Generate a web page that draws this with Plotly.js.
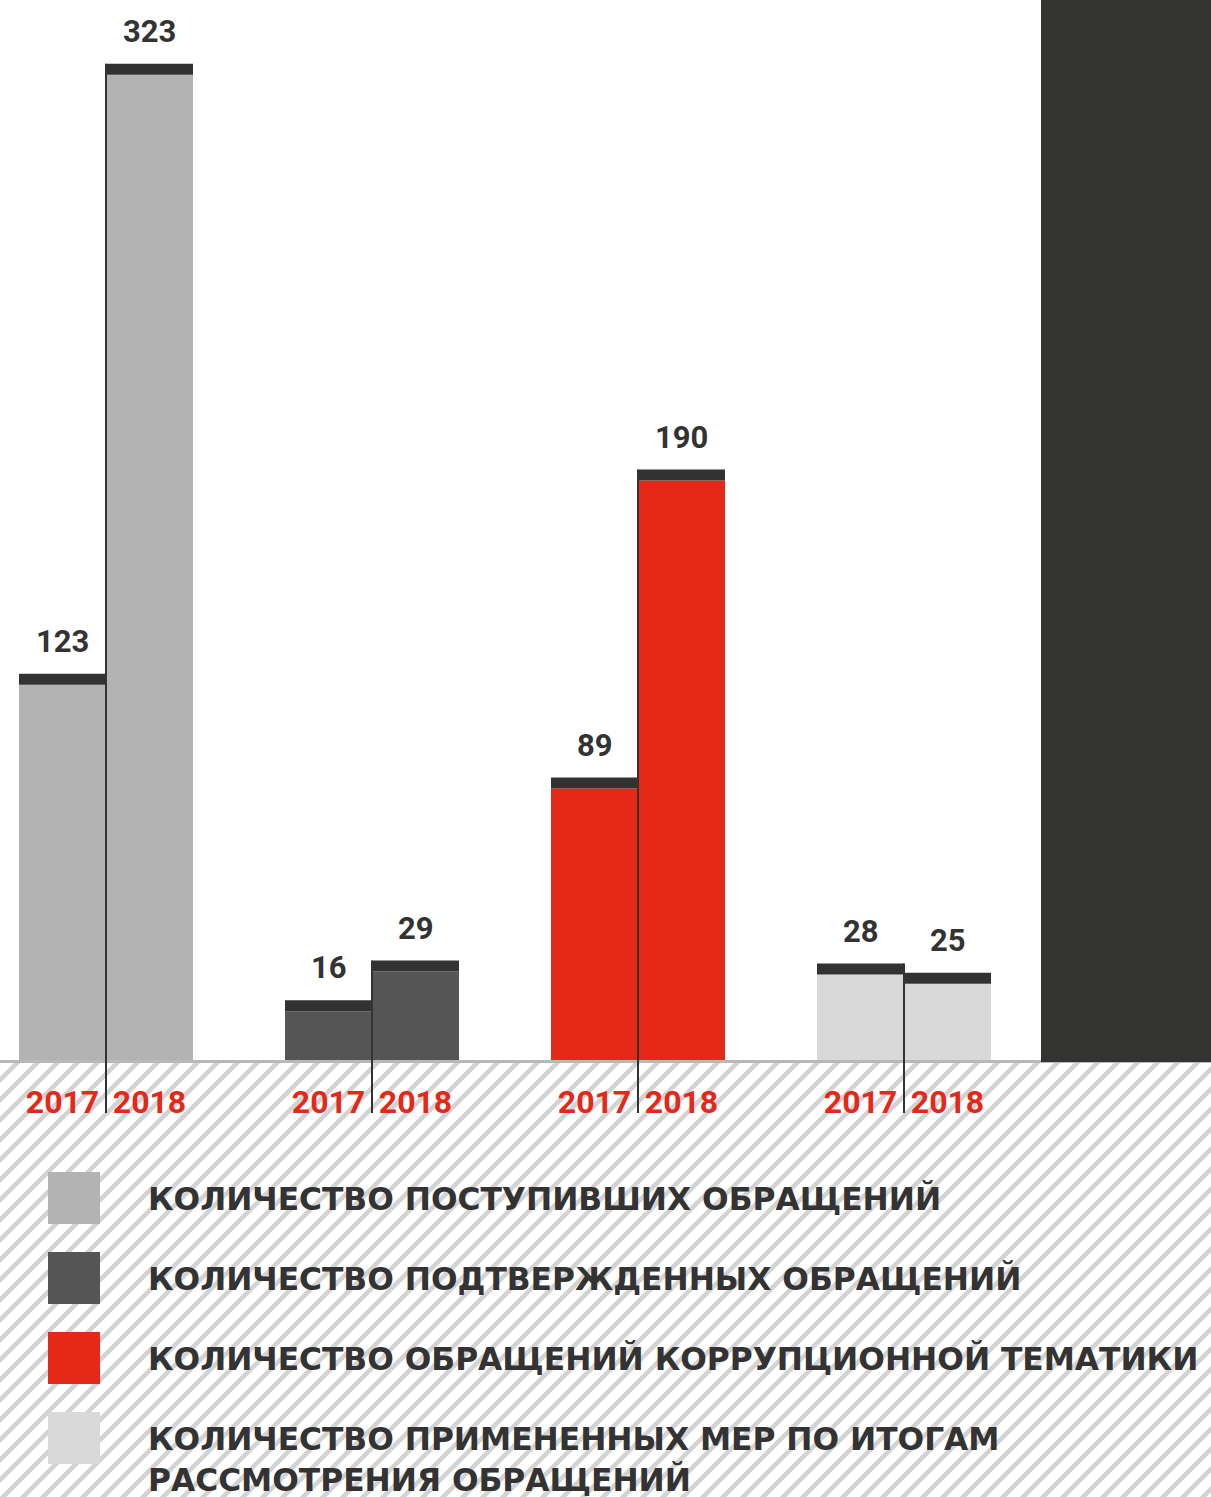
<!DOCTYPE html>
<html>
<head>
<meta charset="utf-8">
<script src="https://cdn.plot.ly/plotly-3.0.1.min.js"></script>
<style>
html,body{margin:0;padding:0;background:#fff;}
#chart{width:1211px;height:1497px;}
</style>
</head>
<body>
<div id="chart"></div>
<script>
// ---- data ----
const groups = [0, 1, 2, 3];
const years = ['2017', '2018'];
const values2017 = [123, 16, 89, 28];
const values2018 = [323, 29, 190, 25];
const seriesColors = ['#b3b3b3', '#555555', '#e52817', '#d9d9d9'];
const legendLabels = [
  'КОЛИЧЕСТВО ПОСТУПИВШИХ ОБРАЩЕНИЙ',
  'КОЛИЧЕСТВО ПОДТВЕРЖДЕННЫХ ОБРАЩЕНИЙ',
  'КОЛИЧЕСТВО ОБРАЩЕНИЙ КОРРУПЦИОННОЙ ТЕМАТИКИ',
  'КОЛИЧЕСТВО ПРИМЕНЕННЫХ МЕР ПО ИТОГАМ<br>РАССМОТРЕНИЯ ОБРАЩЕНИЙ'
];

// ---- style / layout constants ----
const W = 1211, H = 1497, PLOT_H = 1060;
const GROUP_PX = 266, FIRST_CENTER_PX = 106;
const BAR_W = 87 / GROUP_PX;
const PX_PER_UNIT = 3.05;
const YMAX = PLOT_H / PX_PER_UNIT;
const CAP = 11 / PX_PER_UNIT;
const CAP_COLOR = '#333232';
const TEXT_COLOR = '#333333';
const RED = '#e52817';
const py = p => (PLOT_H - p) / PLOT_H;   // page pixel y -> paper y
const pxX = p => p / W;                   // page pixel x -> paper x

const cap = groups.map(() => CAP);

const traces = [
  {type: 'bar', x: groups, y: values2017, offset: -BAR_W, width: BAR_W,
   marker: {color: seriesColors, line: {width: 0}}, hoverinfo: 'skip'},
  {type: 'bar', x: groups, y: values2018, offset: 0, width: BAR_W,
   marker: {color: seriesColors, line: {width: 0}}, hoverinfo: 'skip'},
  {type: 'bar', x: groups, y: cap, base: values2017, offset: -BAR_W, width: BAR_W,
   marker: {color: CAP_COLOR, line: {width: 0}}, hoverinfo: 'skip'},
  {type: 'bar', x: groups, y: cap, base: values2018, offset: 0, width: BAR_W,
   marker: {color: CAP_COLOR, line: {width: 0}}, hoverinfo: 'skip'}
];

const tickvals = [], ticktext = [];
groups.forEach(g => {
  tickvals.push(g - BAR_W / 2); ticktext.push(years[0]);
  tickvals.push(g + BAR_W / 2); ticktext.push(years[1]);
});

const annotations = [];
groups.forEach((g, i) => {
  [[values2017[i], -BAR_W / 2], [values2018[i], BAR_W / 2]].forEach(([v, off]) => {
    annotations.push({
      x: g + off, y: v + CAP, xref: 'x', yref: 'y', text: String(v),
      showarrow: false, xanchor: 'center', yanchor: 'bottom', yshift: 12,
      font: {family: 'Roboto', size: 31, color: TEXT_COLOR, weight: 'bold'}
    });
  });
});

const legendTop = [1172, 1252, 1332, 1412];
const shapes = [];
legendLabels.forEach((lab, i) => {
  shapes.push({type: 'rect', xref: 'paper', yref: 'paper',
    x0: pxX(48), x1: pxX(100), y0: py(legendTop[i]), y1: py(legendTop[i] + 52),
    fillcolor: seriesColors[i], line: {width: 0}});
  const multi = lab.indexOf('<br>') >= 0;
  annotations.push({
    xref: 'paper', yref: 'paper', x: pxX(146),
    y: py(legendTop[i] + 26), yanchor: multi ? 'top' : 'middle',
    yshift: multi ? 19 : 0,
    xanchor: 'left', align: 'left', showarrow: false, text: lab,
    font: {family: 'DejaVu Sans', size: 31.3, color: TEXT_COLOR, weight: 'bold'}
  });
});

// separators between 2017/2018 bars
groups.forEach((g, i) => {
  shapes.push({type: 'line', xref: 'x', yref: 'paper', x0: g, x1: g,
    y0: (Math.max(values2017[i], values2018[i]) + CAP) / YMAX, y1: py(1113),
    line: {color: '#333333', width: 2}});
});

// dark block at right
shapes.push({type: 'rect', xref: 'paper', yref: 'paper', x0: pxX(1041), x1: 1,
  y0: py(1062), y1: 1, fillcolor: '#333331', line: {width: 0}, layer: 'above'});

const hatchSvg = '<svg xmlns="http://www.w3.org/2000/svg" width="1211" height="437" viewBox="0 0 1211 437" preserveAspectRatio="none">' +
  '<defs><pattern id="h" width="20" height="20" patternUnits="userSpaceOnUse">' +
  '<path d="M-5,5 L5,-5 M0,20 L20,0 M15,25 L25,15" stroke="#d3d3d3" stroke-width="4.5"/></pattern></defs>' +
  '<rect width="1211" height="437" fill="#ffffff"/><rect width="1211" height="437" fill="url(#h)"/></svg>';

const layout = {
  width: W, height: H,
  margin: {l: 0, r: 0, t: 0, b: H - PLOT_H, pad: 0},
  paper_bgcolor: '#ffffff', plot_bgcolor: '#ffffff',
  barmode: 'overlay', showlegend: false,
  xaxis: {
    range: [-FIRST_CENTER_PX / GROUP_PX, (W - FIRST_CENTER_PX) / GROUP_PX],
    tickvals: tickvals, ticktext: ticktext, ticks: '', showgrid: false, zeroline: false,
    showline: true, linecolor: '#b8b8b8', linewidth: 3,
    ticklabelstandoff: 12,
    tickfont: {family: 'Roboto', size: 32, color: RED, weight: 'bold'},
    fixedrange: true
  },
  yaxis: {range: [0, YMAX], visible: false, fixedrange: true},
  images: [{
    source: 'data:image/svg+xml;charset=utf-8,' + encodeURIComponent(hatchSvg),
    xref: 'paper', yref: 'paper', x: 0, y: 0, sizex: 1, sizey: (H - PLOT_H) / PLOT_H,
    xanchor: 'left', yanchor: 'top', sizing: 'stretch', layer: 'below'
  }],
  shapes: shapes,
  annotations: annotations
};

Plotly.newPlot('chart', traces, layout, {staticPlot: true, displayModeBar: false});
</script>
</body>
</html>
